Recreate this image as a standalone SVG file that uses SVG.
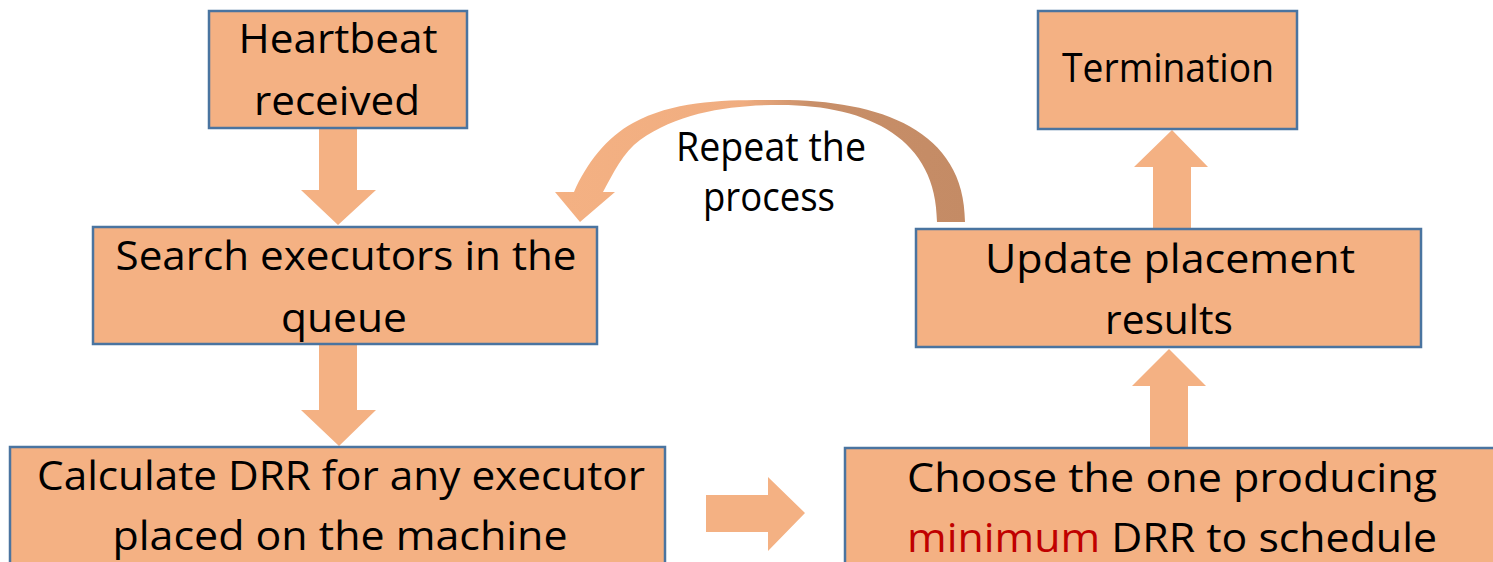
<svg xmlns="http://www.w3.org/2000/svg" width="1493" height="562" viewBox="0 0 1493 562">
  <style>
    .box { fill: #f4b183; stroke: #4a74a0; stroke-width: 2.5; }
    .lbl { font-family: "Open Sans", "Noto Sans", "Liberation Sans", sans-serif; font-size: 40px; fill: #000; text-anchor: middle; }
    .arrow { fill: #f4b183; }
    .hi { fill: #c00000; }
  </style>
  <defs>
    <linearGradient id="loopShade" x1="560" y1="0" x2="966" y2="0" gradientUnits="userSpaceOnUse">
      <stop offset="0" stop-color="#f4b183"/>
      <stop offset="0.45" stop-color="#f0ad80"/>
      <stop offset="0.62" stop-color="#c88f69"/>
      <stop offset="1" stop-color="#c48b65"/>
    </linearGradient>
  </defs>

  <g id="connectors">
    <!-- Heartbeat -> Search -->
    <path class="arrow" d="M319,129 H357 V190 H376 L338,225 L301,190 H319 Z"/>
    <!-- Search -> Calculate -->
    <path class="arrow" d="M319,345 H357 V410 H376 L339,446 L301,410 H319 Z"/>
    <!-- Calculate -> Choose -->
    <path class="arrow" d="M706,495 H768 V477 L805,513 L768,551 V532 H706 Z"/>
    <!-- Choose -> Update -->
    <path class="arrow" d="M1150,448 V386 H1132 L1169,349 L1206,386 H1188 V448 Z"/>
    <!-- Update -> Termination -->
    <path class="arrow" d="M1153,229 V167 H1134 L1172,130 L1208,167 H1191 V229 Z"/>
    <!-- Repeat loop: curved band from Update back to Search -->
    <path id="loop" fill="url(#loopShade)" d="M965,222 C965,130 880,100 780,100 C730,100 677,99 633,123 C607,137 586,164 574,192 L555,192 L580,222 L615,192 L603,192 C613,174 623,152 640,140 C679,112 732,105 780,105 C870,105 937,140 937,222 Z"/>
  </g>

  <g id="heartbeat">
    <rect class="box" x="209" y="11" width="258" height="117"/>
    <text class="lbl" x="338" y="53" textLength="199" lengthAdjust="spacingAndGlyphs">Heartbeat</text>
    <text class="lbl" x="337" y="115" textLength="166" lengthAdjust="spacingAndGlyphs">received</text>
  </g>

  <g id="search">
    <rect class="box" x="93" y="227" width="504" height="117"/>
    <text class="lbl" x="346" y="270" textLength="461" lengthAdjust="spacingAndGlyphs">Search executors in the</text>
    <text class="lbl" x="344" y="332" textLength="126" lengthAdjust="spacingAndGlyphs">queue</text>
  </g>

  <g id="calculate">
    <rect class="box" x="10" y="447" width="655" height="130"/>
    <text class="lbl" x="341" y="490" textLength="608" lengthAdjust="spacingAndGlyphs">Calculate DRR for any executor</text>
    <text class="lbl" x="340" y="550" textLength="455" lengthAdjust="spacingAndGlyphs">placed on the machine</text>
  </g>

  <g id="choose">
    <rect class="box" x="845" y="448" width="660" height="130"/>
    <text class="lbl" x="1172" y="492" textLength="530" lengthAdjust="spacingAndGlyphs">Choose the one producing</text>
    <text class="lbl" x="1172" y="552" textLength="530" lengthAdjust="spacingAndGlyphs"><tspan class="hi">minimum</tspan> DRR to schedule</text>
  </g>

  <g id="update">
    <rect class="box" x="916" y="229" width="505" height="118"/>
    <text class="lbl" x="1170" y="273" textLength="370" lengthAdjust="spacingAndGlyphs">Update placement</text>
    <text class="lbl" x="1169" y="334" textLength="128" lengthAdjust="spacingAndGlyphs">results</text>
  </g>

  <g id="termination">
    <rect class="box" x="1038" y="11" width="259" height="118"/>
    <text class="lbl" x="1168" y="82" textLength="212" lengthAdjust="spacingAndGlyphs">Termination</text>
  </g>

  <g id="repeat-label">
    <text class="lbl" x="771" y="161" font-size="35" textLength="190" lengthAdjust="spacingAndGlyphs">Repeat the</text>
    <text class="lbl" x="769" y="211" font-size="35" textLength="132" lengthAdjust="spacingAndGlyphs">process</text>
  </g>
</svg>
